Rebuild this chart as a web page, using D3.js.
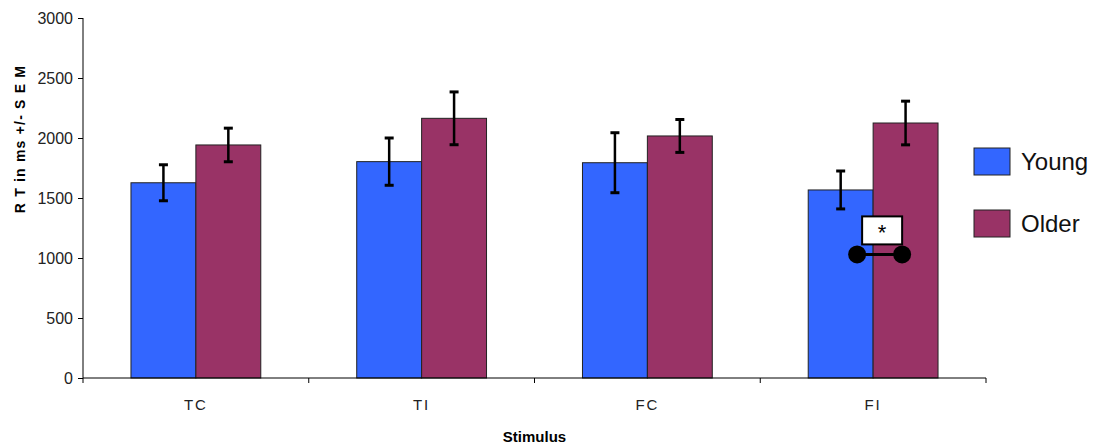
<!DOCTYPE html>
<html>
<head>
<meta charset="utf-8">
<script src="https://cdn.jsdelivr.net/npm/d3@7"></script>
<style>
  html, body { margin: 0; padding: 0; background: #fff; }
  svg { display: block; font-family: "Liberation Sans", Arial, sans-serif; }
</style>
</head>
<body>
<svg id="chart" width="1096" height="448"></svg>
<script>
// Mean reaction times (ms) and standard errors by stimulus type and age group
const categories = ["TC", "TI", "FC", "FI"];
const seriesNames = ["Young", "Older"];
const youngMeans = [1627, 1803, 1794, 1567];
const youngSem   = [150, 197, 250, 158];
const olderMeans = [1942, 2164, 2017, 2125];
const olderSem   = [140, 220, 137, 182];
const yTicks = [0, 500, 1000, 1500, 2000, 2500, 3000];
const colors = ["#3366FF", "#993366"];
// Significance marker on the FI pair
const sigCategory = "FI";
const sigLevel = 1030;

(function draw() {
  const svg = d3.select("#chart");
  const plotLeft = 83, plotRight = 986, plotTop = 18, plotBottom = 378;

  const x = d3.scaleBand().domain(categories).range([plotLeft, plotRight])
    .paddingInner(0.425).paddingOuter(0.2125);
  const xSub = d3.scaleBand().domain(seriesNames).range([0, x.bandwidth()]);
  const y = d3.scaleLinear().domain([0, 3000]).range([plotBottom, plotTop]);

  const data = categories.map((c, i) => ({
    cat: c,
    values: [
      { s: "Young", v: youngMeans[i], e: youngSem[i] },
      { s: "Older", v: olderMeans[i], e: olderSem[i] }
    ]
  }));

  // Bars
  const groups = svg.append("g").selectAll("g").data(data).join("g")
    .attr("transform", d => `translate(${x(d.cat)},0)`);

  groups.selectAll("rect").data(d => d.values).join("rect")
    .attr("x", d => xSub(d.s))
    .attr("y", d => y(d.v))
    .attr("width", xSub.bandwidth())
    .attr("height", d => y(0) - y(d.v))
    .attr("fill", (d, i) => colors[i])
    .attr("stroke", "#222")
    .attr("stroke-width", 1);

  // Error bars
  const eb = groups.selectAll("g.err").data(d => d.values).join("g").attr("class", "err");
  eb.append("line")
    .attr("x1", d => xSub(d.s) + xSub.bandwidth() / 2)
    .attr("x2", d => xSub(d.s) + xSub.bandwidth() / 2)
    .attr("y1", d => y(d.v + d.e))
    .attr("y2", d => y(d.v - d.e))
    .attr("stroke", "#000").attr("stroke-width", 2.5);
  eb.selectAll("line.cap").data(d => [
      { cx: xSub(d.s) + xSub.bandwidth() / 2, v: d.v + d.e },
      { cx: xSub(d.s) + xSub.bandwidth() / 2, v: d.v - d.e }
    ]).join("line").attr("class", "cap")
    .attr("x1", d => d.cx - 4.5).attr("x2", d => d.cx + 4.5)
    .attr("y1", d => y(d.v)).attr("y2", d => y(d.v))
    .attr("stroke", "#000").attr("stroke-width", 3);

  // Y axis
  const yAxis = d3.axisLeft(y).tickValues(yTicks).tickFormat(d3.format("d"))
    .tickSize(5).tickPadding(5);
  const gy = svg.append("g").attr("transform", `translate(${plotLeft},0)`).call(yAxis);
  gy.select(".domain").attr("stroke", "#000").attr("d", `M0,${plotTop}V${plotBottom + 5}`);
  gy.selectAll(".tick line").attr("stroke", "#000");
  gy.selectAll(".tick text").attr("font-size", 16).attr("fill", "#222")
    .attr("font-family", "'Liberation Sans Narrow', 'Liberation Sans', Arial, sans-serif");

  // X axis: ticks sit between categories
  const gx = svg.append("g").attr("transform", `translate(0,${plotBottom})`);
  gx.append("line").attr("x1", plotLeft).attr("x2", plotRight).attr("y1", 0).attr("y2", 0)
    .attr("stroke", "#000");
  gx.selectAll("line.sep").data(categories).join("line").attr("class", "sep")
    .attr("x1", c => x(c) + x.bandwidth() / 2 + x.step() / 2)
    .attr("x2", c => x(c) + x.bandwidth() / 2 + x.step() / 2)
    .attr("y1", 0).attr("y2", 5).attr("stroke", "#000");
  gx.selectAll("text").data(categories).join("text")
    .attr("x", c => x(c) + x.bandwidth() / 2)
    .attr("y", 32)
    .attr("text-anchor", "middle")
    .attr("font-size", 15).attr("letter-spacing", 2).attr("fill", "#222")
    .text(c => c);

  // Axis titles
  svg.append("text")
    .attr("transform", `translate(25,${(plotTop + plotBottom) / 2 - 59}) rotate(-90)`)
    .attr("text-anchor", "middle")
    .attr("font-size", 14).attr("font-weight", "bold").attr("letter-spacing", 1.2)
    .text("R T in ms +/- S E M");
  svg.append("text")
    .attr("x", (plotLeft + plotRight) / 2).attr("y", 442)
    .attr("text-anchor", "middle")
    .attr("font-size", 15).attr("font-weight", "bold")
    .text("Stimulus");

  // Legend
  const legend = svg.append("g").attr("transform", "translate(974,148)");
  const li = legend.selectAll("g").data(seriesNames).join("g")
    .attr("transform", (d, i) => `translate(0,${i * 62})`);
  li.append("rect").attr("width", 36).attr("height", 27)
    .attr("fill", (d, i) => colors[i]).attr("stroke", "#222");
  li.append("text").attr("x", 47).attr("y", 22)
    .attr("font-size", 24).attr("fill", "#111").text(d => d);

  // Significance annotation
  const cx = x(sigCategory) + x.bandwidth() / 2;
  const sy = y(sigLevel);
  const sig = svg.append("g");
  sig.append("line").attr("x1", cx - 16).attr("x2", cx + 29).attr("y1", sy).attr("y2", sy)
    .attr("stroke", "#000").attr("stroke-width", 3);
  sig.selectAll("circle").data([-16, 29]).join("circle")
    .attr("cx", d => cx + d).attr("cy", sy).attr("r", 9).attr("fill", "#000");
  sig.append("rect").attr("x", cx - 11).attr("y", sy - 38).attr("width", 40).attr("height", 28)
    .attr("fill", "#fff").attr("stroke", "#000").attr("stroke-width", 2);
  sig.append("text").attr("x", cx + 9).attr("y", sy - 14).attr("text-anchor", "middle")
    .attr("font-size", 22).text("*");
})();
</script>
</body>
</html>
